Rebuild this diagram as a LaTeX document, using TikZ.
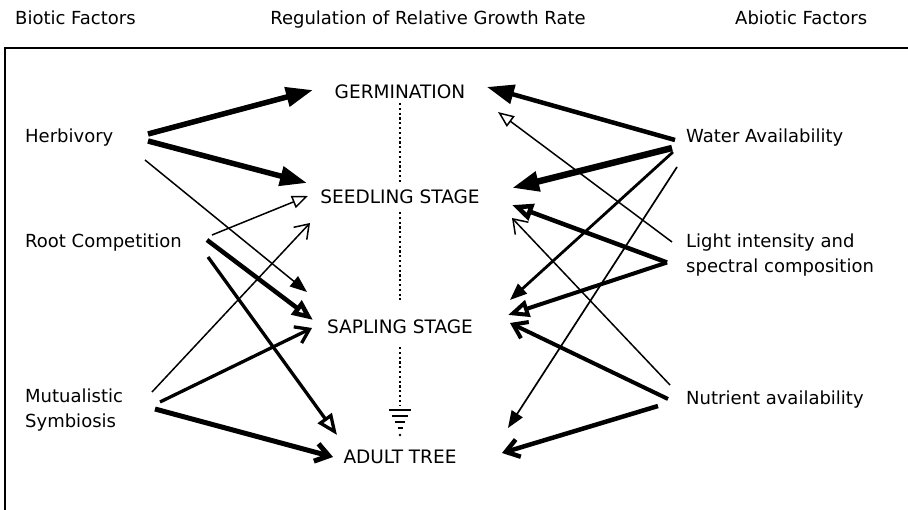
\documentclass[tikz,border=0pt]{standalone}
\usepackage{fontspec}
\setmainfont{DejaVu Sans}
\usepackage{tikz}
\usetikzlibrary{arrows.meta}

\begin{document}
\begin{tikzpicture}[x=1pt, y=-1pt,
    title/.style={anchor=base west, inner sep=0pt, font=\fontsize{18}{22}\selectfont},
    factor/.style={anchor=west, align=left, inner sep=0pt, font=\fontsize{18}{25}\selectfont},
    stage/.style={inner sep=0pt, font=\fontsize{18.5}{22}\selectfont},
    spine/.style={line width=2.2pt, dash pattern=on 2.2pt off 2.6pt},
    bigsolid/.style={line width=#1, -{Triangle[length=27pt,width=19pt]}},
    bigsolid/.default=5pt,
    smallsolid/.style={line width=#1, -{Triangle[length=17pt,width=13pt]}},
    smallsolid/.default=1.5pt,
    bigopen/.style={line width=#1, -{Triangle[fill=white,length=21pt,width=17pt]}},
    bigopen/.default=4pt,
    smallopen/.style={line width=#1, -{Triangle[fill=white,length=16pt,width=13pt]}},
    smallopen/.default=1.5pt,
    barb/.style={line width=#1, -{Straight Barb[length=13pt,width=18pt]}},
    barb/.default=1.5pt,
]
    \useasboundingbox (0,0) rectangle (908,510);

    % headings and frame
    \node[title] (biotic) at (15,25) {Biotic Factors};
    \node[title, anchor=base] (rgr) at (428,25) {Regulation of Relative Growth Rate};
    \node[title] (abiotic) at (735,25) {Abiotic Factors};
    \draw[line width=1.5pt] (5,510) -- (5,48) -- (908,48);

    % factors
    \node[factor] (herb) at (25,138) {Herbivory};
    \node[factor] (root) at (25,243) {Root Competition};
    \node[factor] (mutu) at (25,410) {Mutualistic\\Symbiosis};
    \node[factor] (water) at (686,138) {Water Availability};
    \node[factor] (light) at (686,255.5) {Light intensity and\\spectral composition};
    \node[factor] (nutr) at (686,400) {Nutrient availability};

    % stages
    \node[stage] (germ) at (400,92) {GERMINATION};
    \node[stage] (seed) at (400,197) {SEEDLING STAGE};
    \node[stage] (sapl) at (400,327) {SAPLING STAGE};
    \node[stage] (adult) at (400,457) {ADULT TREE};

    \coordinate (gnd) at (400,405);
    \draw[spine] ([shift={(0,11)}]germ.center) -- ([shift={(0,-15)}]seed.center);
    \draw[spine] ([shift={(0,15)}]seed.center) -- ([shift={(0,-27)}]sapl.center);
    \draw[spine] ([shift={(0,20)}]sapl.center) -- (gnd);
    \draw[line width=2.6pt] ([shift={(-11,5)}]gnd) -- ++(22,0);
    \draw[line width=2.6pt] ([shift={(-8,11)}]gnd) -- ++(16,0);
    \draw[line width=2.6pt] ([shift={(-5,17)}]gnd) -- ++(10,0);
    \draw[line width=2.6pt] ([shift={(-2.5,23)}]gnd) -- ++(5,0);
    \fill ([shift={(0,30)}]gnd) circle (1.3pt);

    % biotic side
    \draw[bigsolid=5.5pt] ([shift={(123,-4)}]herb.west) -- ([shift={(-87,-2)}]germ.center);
    \draw[bigsolid=5.5pt] ([shift={(123,3)}]herb.west) -- ([shift={(-93,-14)}]seed.center);
    \draw[smallsolid] ([shift={(120,22)}]herb.west) -- ([shift={(-93,-35)}]sapl.center);
    \draw[smallopen] ([shift={(187,-8)}]root.west) -- ([shift={(-92,-1)}]seed.center);
    \draw[bigopen=4.5pt] ([shift={(182,-3)}]root.west) -- ([shift={(-87,-7)}]sapl.center);
    \draw[bigopen=3.3pt] ([shift={(183,14)}]root.west) -- ([shift={(-63,-22)}]adult.center);
    \draw[barb] ([shift={(127,-18)}]mutu.west) -- ([shift={(-90,26)}]seed.center);
    \draw[barb=3.3pt] ([shift={(135,-8)}]mutu.west) -- ([shift={(-88,1)}]sapl.center);
    \draw[barb=5pt] ([shift={(130,-1)}]mutu.west) -- ([shift={(-67,0)}]adult.center);

    % abiotic side
    \draw[bigsolid=4.5pt] ([shift={(-11,2)}]water.west) -- ([shift={(87,-5)}]germ.center);
    \draw[smallopen] ([shift={(-14,-13.5)}]light.west) -- ([shift={(98,20)}]germ.center);
    \draw[bigsolid=6.5pt] ([shift={(-14,10)}]water.west) -- ([shift={(112,-9)}]seed.center);
    \draw[smallsolid=2.8pt] ([shift={(-13,14)}]water.west) -- ([shift={(110,-27)}]sapl.center);
    \draw[smallsolid=1.7pt] ([shift={(-9,29)}]water.west) -- ([shift={(108,-29)}]adult.center);
    \draw[bigopen=4.5pt] ([shift={(-19,7)}]light.west) -- ([shift={(112,8)}]seed.center);
    \draw[bigopen=4pt] ([shift={(-19,7)}]light.west) -- ([shift={(108,-12)}]sapl.center);
    \draw[barb] ([shift={(-16,-15)}]nutr.west) -- ([shift={(112,21)}]seed.center);
    \draw[barb=4pt] ([shift={(-18,-1)}]nutr.west) -- ([shift={(110,-4)}]sapl.center);
    \draw[barb=4.5pt] ([shift={(-28,6)}]nutr.west) -- ([shift={(102,-4)}]adult.center);
\end{tikzpicture}
\end{document}
